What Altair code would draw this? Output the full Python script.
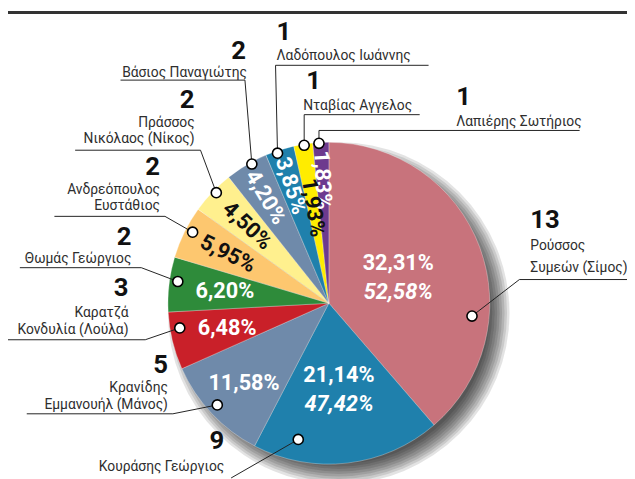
import math
import altair as alt
import pandas as pd

# ---------------- data ----------------
names = ["Ρούσσος Συμεών (Σίμος)", "Κουράσης Γεώργιος", "Κρανίδης Εμμανουήλ (Μάνος)",
         "Καρατζά Κονδυλία (Λούλα)", "Θωμάς Γεώργιος", "Ανδρεόπουλος Ευστάθιος",
         "Πράσσος Νικόλαος (Νίκος)", "Βάσιος Παναγιώτης", "Λαδόπουλος Ιωάννης",
         "Νταβίας Αγγελος", "Λαπιέρης Σωτήριος"]
label_lines = ["Ρούσσος\nΣυμεών (Σίμος)", "Κουράσης Γεώργιος", "Κρανίδης\nΕμμανουήλ (Μάνος)",
               "Καρατζά\nΚονδυλία (Λούλα)", "Θωμάς Γεώργιος", "Ανδρεόπουλος\nΕυστάθιος",
               "Πράσσος\nΝικόλαος (Νίκος)", "Βάσιος Παναγιώτης", "Λαδόπουλος Ιωάννης",
               "Νταβίας Αγγελος", "Λαπιέρης Σωτήριος"]
seats = [13, 9, 5, 3, 2, 2, 2, 2, 1, 1, 1]
first_round = [32.31, 21.14, 11.58, 6.48, 6.20, 5.95, 4.50, 4.20, 3.85, 1.93, 1.83]
second_round = [52.58, 47.42, None, None, None, None, None, None, None, None, None]
# slice sizes as drawn in the picture (share of the full circle, %)
slice_share = [38.7, 19.0, 10.7, 5.8, 5.5, 5.3, 4.4, 4.3, 2.9, 1.9, 1.6]
colors = ["#C8737C", "#1F80AC", "#6F8AAA", "#C92029", "#2E8B3A", "#FDC76F",
          "#FFF08E", "#6F8AAA", "#1F80AC", "#FFEC00", "#6D3A8E"]

# ---------------- layout (annotation positions, chart px) ----------------
W, H = 627, 471
CX, CY, R = 325, 296, 163
num_pos = [(529, 220), (219, 444), (162, 367), (122, 289), (125, 237), (154, 166),
           (189, 98), (241, 49), (272, 29), (302, 79), (454, 95)]
name_pos = [(529, 242), (219, 466), (162, 386), (122, 310), (125, 255), (154, 185),
            (189, 117), (242, 67), (272, 50), (299, 100), (454, 116)]
left_aligned = [True, False, False, False, False, False, False, False, True, True, True]
dot_pos = [(470, 309), (294, 434), (212, 399), (174, 321), (172, 274), (187, 224),
           (211, 184), (247, 155), (273, 144), (300, 136), (315, 134)]
leader_via = [[(627, 272), (518, 272)], [(226, 473)], [(19, 408), (167, 408)],
              [(0, 333), (139, 333)], [(12, 260), (135, 260)], [(47, 208), (159, 208)],
              [(68, 141), (195, 141)], [(114, 70), (240, 70)], [(426, 55), (271, 55)],
              [(417, 105), (300, 105)], [(579, 121), (315, 121)]]


def fmt(v):
    return ("%.2f%%" % v).replace(".", ",")


df = pd.DataFrame({
    "name": names, "lines": label_lines, "seats": [str(s) for s in seats],
    "p1": [fmt(v) for v in first_round],
    "p2": [fmt(v) if v is not None else "" for v in second_round],
    "share": slice_share,
})
df["idx"] = range(len(df))
df["mid"] = df["share"].cumsum() - df["share"] / 2
total = float(df["share"].sum())


def rot(m):
    t = math.radians(m / total * 360.0)
    return (math.degrees(math.atan2(math.cos(t), -math.sin(t))) + 360) % 360


df["rot"] = df["mid"].apply(rot)
df["nx"] = [p[0] for p in num_pos]
df["ny"] = [p[1] for p in num_pos]
df["tx"] = [p[0] for p in name_pos]
df["ty"] = [p[1] for p in name_pos]
df["left"] = left_aligned

rows = []
for i, n in enumerate(names):
    pts = leader_via[i] + [dot_pos[i]]
    for k, (x, y) in enumerate(pts):
        rows.append({"name": n, "k": k, "lx": x, "ly": y})
lines_df = pd.DataFrame(rows)
dots_df = pd.DataFrame({"name": names, "dx": [p[0] for p in dot_pos], "dy": [p[1] for p in dot_pos]})

theta_scale = alt.Scale(domain=[0, total])
FONT = "Roboto"
one = pd.DataFrame({"a": [0]})

# ---------------- layers ----------------
shadow = [
    alt.Chart(one).mark_arc(outerRadius=R - 10 + 2.5 * k, theta=0, theta2=6.2832,
                            color="#000000", opacity=0.11)
    .encode(x=alt.value(CX + 10), y=alt.value(CY + 10))
    for k in range(9)
]

pie = alt.Chart(df).mark_arc(outerRadius=R, stroke="white", strokeWidth=0.6,
                             strokeOpacity=0.5).encode(
    theta=alt.Theta("share:Q", stack=True, scale=theta_scale),
    color=alt.Color("name:N", scale=alt.Scale(domain=names, range=colors), legend=None),
    order=alt.Order("idx:Q"),
    x=alt.value(CX), y=alt.value(CY),
)

dark_names = [names[5], names[6], names[9]]
label_color = alt.condition(alt.FieldOneOfPredicate(field="name", oneOf=dark_names),
                            alt.value("#111111"), alt.value("white"))


def pct_layer(sel, radius, field="p1", rotate=False, dy=0, italic=False):
    enc = dict(
        theta=alt.Theta("mid:Q", stack=None, scale=theta_scale),
        text=alt.Text(field + ":N"),
        color=label_color,
        x=alt.value(CX), y=alt.value(CY),
    )
    if rotate:
        enc["angle"] = alt.Angle("rot:Q", scale=None)
    kw = dict(radius=radius, font=FONT, fontSize=22, fontWeight="bold",
              align="center", baseline="middle", dy=dy)
    if italic:
        kw["fontStyle"] = "italic"
    return (alt.Chart(df).transform_filter(alt.FieldOneOfPredicate(field="name", oneOf=sel))
            .mark_text(**kw).encode(**enc))


labels = [
    pct_layer([names[0]], 75, dy=-15),
    pct_layer([names[0]], 75, field="p2", dy=15, italic=True),
    pct_layer([names[1]], 88, dy=-15),
    pct_layer([names[1]], 88, field="p2", dy=15, italic=True),
    pct_layer([names[2]], 118),
    pct_layer([names[3], names[4]], 106),
    pct_layer([names[5], names[6]], 114, rotate=True),
    pct_layer([names[7], names[8], names[10]], 125, rotate=True),
    pct_layer([names[9]], 98, rotate=True),
]

leaders = alt.Chart(lines_df).mark_line(color="#222222", strokeWidth=1).encode(
    x=alt.X("lx:Q", scale=None), y=alt.Y("ly:Q", scale=None),
    detail="name:N", order="k:Q")

dots = alt.Chart(dots_df).mark_circle(size=105, color="white", stroke="black",
                                      strokeWidth=1.6, opacity=1).encode(
    x=alt.X("dx:Q", scale=None), y=alt.Y("dy:Q", scale=None))


def callout(left):
    base = alt.Chart(df).transform_filter(alt.datum.left == left)
    al = "left" if left else "right"
    nums = base.mark_text(font=FONT, fontSize=26, fontWeight="bold", color="#111111",
                          align=al, baseline="alphabetic").encode(
        x=alt.X("nx:Q", scale=None), y=alt.Y("ny:Q", scale=None), text="seats:N")
    nm = base.mark_text(font=FONT, fontSize=14, color="#2e2e2e", align=al,
                        baseline="alphabetic", lineBreak="\n",
                        lineHeight=22 if left else 17).encode(
        x=alt.X("tx:Q", scale=None), y=alt.Y("ty:Q", scale=None), text="lines:N")
    return [nums, nm]


top_bar = alt.Chart(one).mark_rect(color="#333333").encode(
    x=alt.value(0), x2=alt.value(W), y=alt.value(0), y2=alt.value(3))

chart = alt.layer(*shadow, pie, *labels, leaders, dots, *callout(True), *callout(False),
                  top_bar).properties(
    width=W, height=H, padding=0, autosize="none", background="white"
).configure_view(stroke=None)

chart.save("out.html", embed_options={"renderer": "svg", "actions": False})
